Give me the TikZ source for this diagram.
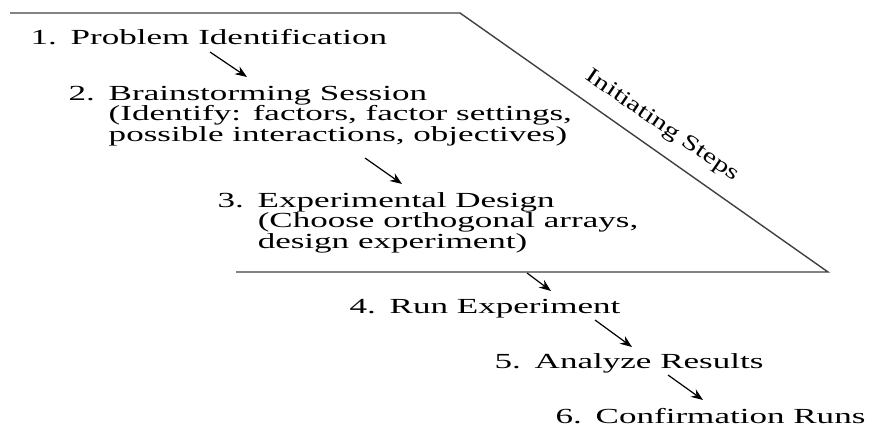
\documentclass[tikz,border=0pt]{standalone}
\usepackage{fontspec}
\setmainfont{Liberation Serif}
\usetikzlibrary{arrows.meta}

% number column + text column, baseline at the first row
\newcommand{\stepitem}[2]{\begin{tabular}[t]{@{}l@{}l@{}}\makebox[12.3pt][l]{#1}&#2\end{tabular}}

\begin{document}
\begin{tikzpicture}[x=0.5pt, y=-0.5pt, >=Stealth,
  stepnode/.style={anchor=base west, inner sep=0pt, xscale=1.63, transform shape,
    font=\fontsize{10.75}{9.75}\selectfont},
  flow/.style={->, line width=0.6pt, >={Stealth[length=6pt,width=4.6pt]}},
  frame/.style={line width=0.7pt, draw=black!75}]
\useasboundingbox (0,0) rectangle (885,428);

% initiating steps frame
\coordinate (topleft)  at (10,13);
\coordinate (topright) at (460,13);
\coordinate (botright) at (828,272);
\coordinate (botleft)  at (236,272);
\draw[frame] (topleft) -- (topright) -- (botright) -- (botleft);
\node[rotate=-34.4, xscale=1.38, transform shape, inner sep=0pt,
  font=\fontsize{10.75}{9.75}\selectfont] (initlbl) at (662,126) {Initiating Steps};

% steps
\node[stepnode] (s1) at (30,45)  {\stepitem{1.}{Problem Identification}};
\node[stepnode] (s2) at (68,100) {\stepitem{2.}{Brainstorming Session\\
  &(Identify: factors, factor settings,\\
  &possible interactions, objectives)}};
\node[stepnode] (s3) at (217,207) {\stepitem{3.}{Experimental Design\\
  &(Choose orthogonal arrays,\\
  &design experiment)}};
\node[stepnode] (s4) at (349,313) {\stepitem{4.}{Run Experiment}};
\node[stepnode] (s5) at (494,368) {\stepitem{5.}{Analyze Results}};
\node[stepnode] (s6) at (555,423) {\stepitem{6.}{Confirmation Runs}};

% arrows between steps
\coordinate (t1) at (210,52);  \coordinate (h1) at (247,77);
\coordinate (t2) at (365,158); \coordinate (h2) at (402,184);
\coordinate (t3) at (527,273); \coordinate (h3) at (551,291);
\coordinate (t4) at (595,320); \coordinate (h4) at (632,347);
\coordinate (t5) at (668,375); \coordinate (h5) at (703,400);
\draw[flow] (t1) -- (h1);
\draw[flow] (t2) -- (h2);
\draw[flow] (t3) -- (h3);
\draw[flow] (t4) -- (h4);
\draw[flow] (t5) -- (h5);
\end{tikzpicture}
\end{document}
